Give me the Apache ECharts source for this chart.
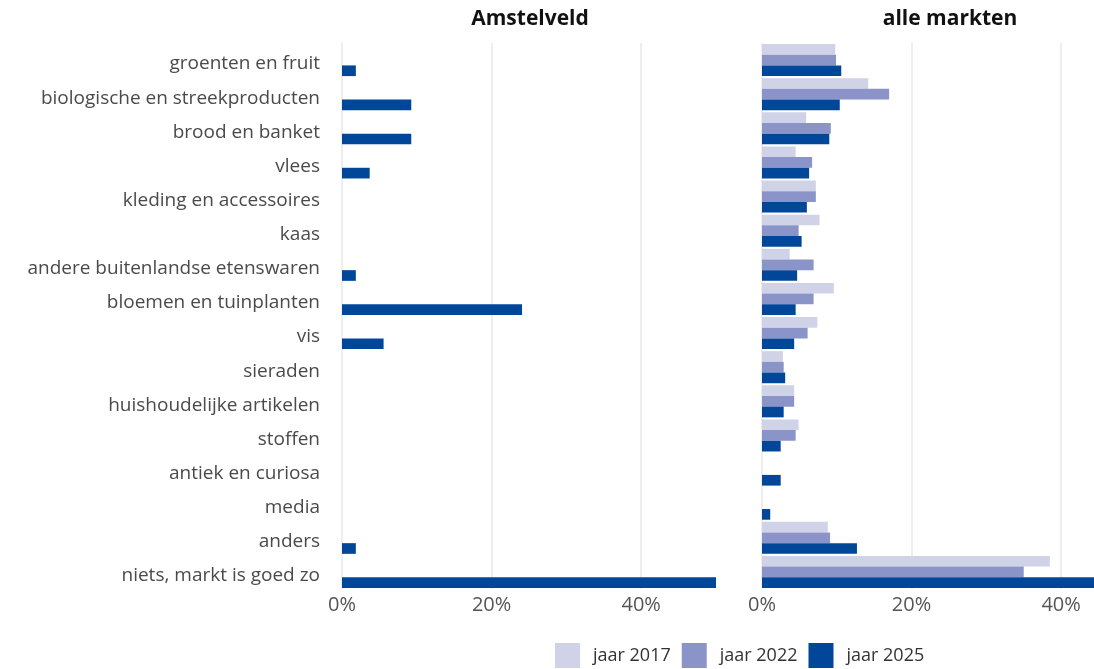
<!DOCTYPE html>
<html><head><meta charset="utf-8">
<script src="https://cdn.jsdelivr.net/npm/echarts@6/dist/echarts.min.js"></script>
<style>html,body{margin:0;padding:0;background:#fff}#c{width:1094px;height:669px}</style>
</head><body><div id="c"></div>
<script>
const categories = ['groenten en fruit','biologische en streekproducten','brood en banket','vlees','kleding en accessoires','kaas','andere buitenlandse etenswaren','bloemen en tuinplanten','vis','sieraden','huishoudelijke artikelen','stoffen','antiek en curiosa','media','anders','niets, markt is goed zo'];
const panelTitles = ['Amstelveld','alle markten'];
const seriesNames = ['jaar 2017','jaar 2022','jaar 2025'];
const colors = ['#d0d3e8','#8a94c8','#00479a'];

// Amstelveld: only 2025 measured
const amstelveld2017 = [];
const amstelveld2022 = [];
const amstelveld2025 = [1.85, 9.26, 9.26, 3.70, 0, 0, 1.85, 24.07, 5.56, 0, 0, 0, 0, 0, 1.85, 50.0];

// alle markten
const alle2017 = [9.8, 14.2, 5.9, 4.5, 7.2, 7.7, 3.7, 9.6, 7.4, 2.8, 4.3, 4.9, 0, 0, 8.8, 38.5];
const alle2022 = [9.9, 17.0, 9.2, 6.7, 7.2, 4.9, 6.9, 6.9, 6.1, 2.9, 4.3, 4.5, 0, 0, 9.1, 35.0];
const alle2025 = [10.6, 10.4, 9.0, 6.3, 6.0, 5.3, 4.7, 4.5, 4.3, 3.1, 2.9, 2.5, 2.5, 1.1, 12.7, 44.4];

const FONT = 'Open Sans';
const chart = echarts.init(document.getElementById('c'), null, {renderer: 'canvas'});

function xAxis(gridIndex, max) {
  return {
    type: 'value', gridIndex, min: 0, max, interval: 20,
    axisLine: {show: false}, axisTick: {show: false},
    axisLabel: {formatter: v => v + '%', color: '#555', fontSize: 20, fontFamily: FONT, margin: 6, showMaxLabel: false},
    splitLine: {show: true, showMaxLine: false, lineStyle: {color: '#e8e8e8', width: 1.5}}
  };
}
function yAxis(gridIndex, showLabels) {
  return {
    type: 'category', gridIndex, data: categories, inverse: true,
    axisLine: {show: false}, axisTick: {show: false}, splitLine: {show: false},
    axisLabel: {
      show: showLabels, margin: 22,
      formatter: v => '{a|' + v + '}',
      rich: {a: {color: '#4a4a4a', fontSize: 19, fontFamily: FONT, padding: [8, 0, 0, 0]}}
    }
  };
}
function bars(idx, data, name, ci) {
  return {
    type: 'bar', name, xAxisIndex: idx, yAxisIndex: idx, data,
    itemStyle: {color: colors[ci]}, barGap: '0%', barCategoryGap: '6%',
    silent: true, animation: false
  };
}

chart.setOption({
  animation: false,
  textStyle: {fontFamily: FONT},
  grid: [
    {left: 342, top: 43, width: 374, height: 546},
    {left: 762, top: 43, width: 332, height: 546}
  ],
  title: [
    {text: panelTitles[0], left: 525, top: 4, textAlign: 'center', textStyle: {fontSize: 21, fontWeight: 'bold', color: '#111', fontFamily: FONT}},
    {text: panelTitles[1], left: 945, top: 4, textAlign: 'center', textStyle: {fontSize: 21, fontWeight: 'bold', color: '#111', fontFamily: FONT}}
  ],
  legend: {
    data: seriesNames, left: 555, top: 643, padding: 0, itemWidth: 25, itemHeight: 25, itemGap: 11,
    icon: 'rect', textStyle: {fontSize: 18, color: '#333', fontFamily: FONT, padding: [0, 0, 0, 8]}
  },
  xAxis: [xAxis(0, 50), xAxis(1, 44.4)],
  yAxis: [yAxis(0, true), yAxis(1, false)],
  series: [
    bars(0, amstelveld2017, seriesNames[0], 0),
    bars(0, amstelveld2022, seriesNames[1], 1),
    bars(0, amstelveld2025, seriesNames[2], 2),
    bars(1, alle2017, seriesNames[0], 0),
    bars(1, alle2022, seriesNames[1], 1),
    bars(1, alle2025, seriesNames[2], 2)
  ]
});
</script></body></html>
